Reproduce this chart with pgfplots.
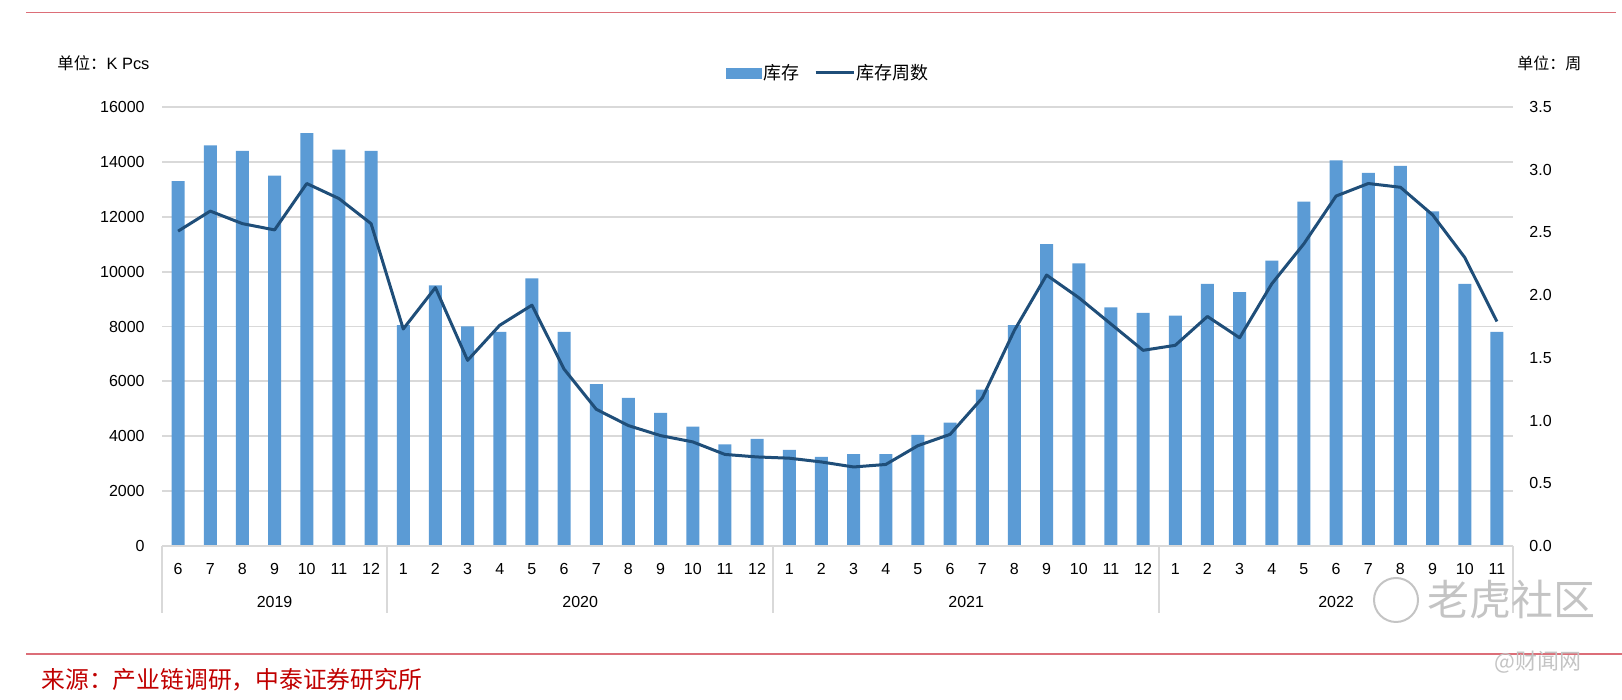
\documentclass[border=0pt]{standalone}
\usepackage{fontspec}
\setmainfont{Liberation Sans}
\newfontfamily\cjk{Noto Sans CJK SC}
\usepackage{pgfplots}
\usepackage{pgfplotstable}
\pgfplotsset{compat=1.18}
\definecolor{barblue}{HTML}{5B9BD5}
\definecolor{linenavy}{HTML}{1F4E79}
\definecolor{gridgray}{HTML}{D9D9D9}
\definecolor{redline}{HTML}{DC6E78}
\definecolor{srcred}{HTML}{C00000}
\definecolor{wmgray}{HTML}{C4C4C4}
\pgfplotstableread{
x inv wk
0 13300 2.51
1 14600 2.67
2 14400 2.57
3 13500 2.52
4 15050 2.89
5 14450 2.77
6 14400 2.57
7 8050 1.73
8 9500 2.06
9 8000 1.48
10 7800 1.76
11 9750 1.92
12 7800 1.41
13 5900 1.09
14 5400 0.96
15 4850 0.88
16 4350 0.83
17 3700 0.73
18 3900 0.71
19 3500 0.70
20 3250 0.67
21 3350 0.63
22 3350 0.65
23 4050 0.80
24 4500 0.89
25 5700 1.18
26 8050 1.72
27 11000 2.16
28 10300 1.98
29 8700 1.77
30 8500 1.56
31 8400 1.60
32 9550 1.83
33 9250 1.66
34 10400 2.09
35 12550 2.41
36 14050 2.79
37 13600 2.89
38 13850 2.86
39 12200 2.64
40 9550 2.30
41 7800 1.79
}\datatable
\begin{document}
\begin{tikzpicture}
\useasboundingbox (0,0) rectangle (811pt,350pt);
% red rules
\draw[redline, line width=0.7pt] (13pt,343.8pt) -- (808pt,343.8pt);
\draw[redline, line width=0.7pt] (13pt,23pt) -- (811pt,23pt);
\begin{axis}[
  at={(81pt,77pt)}, anchor=south west,
  scale only axis, width=675.5pt, height=219.5pt,
  xmin=-0.5, xmax=41.5, ymin=0, ymax=16000,
  ytick={0,2000,...,16000},
  xtick={0,...,41},
  xticklabels={6,7,8,9,10,11,12,1,2,3,4,5,6,7,8,9,10,11,12,1,2,3,4,5,6,7,8,9,10,11,12,1,2,3,4,5,6,7,8,9,10,11},
  axis line style={draw=none},
  tick style={draw=none},
  ymajorgrids, grid style={gridgray, line width=0.9pt},
  /pgf/number format/assume math mode=true,
  scaled y ticks=false,
  yticklabel style={font=\fontsize{8}{9}\selectfont, anchor=east, inner sep=0pt, xshift=-8.5pt, /pgf/number format/1000 sep={}},
  xticklabel style={font=\fontsize{8}{9}\selectfont, anchor=center, inner sep=0pt, yshift=-11.5pt},
  clip=false,
]
\addplot[ybar, bar width=6.5pt, fill=barblue, draw=none] table[x=x,y=inv] {\datatable};
\draw[gridgray, line width=0.9pt] (axis cs:-0.5,0) -- (axis cs:41.5,0);
\draw[gridgray, line width=0.8pt] (axis cs:-0.5,0) -- ([yshift=-33.5pt]axis cs:-0.5,0);
\draw[gridgray, line width=0.8pt] (axis cs:6.5,0) -- ([yshift=-33.5pt]axis cs:6.5,0);
\draw[gridgray, line width=0.8pt] (axis cs:18.5,0) -- ([yshift=-33.5pt]axis cs:18.5,0);
\draw[gridgray, line width=0.8pt] (axis cs:30.5,0) -- ([yshift=-33.5pt]axis cs:30.5,0);
\draw[gridgray, line width=0.8pt] (axis cs:41.5,0) -- ([yshift=-33.5pt]axis cs:41.5,0);
\node[font=\fontsize{8}{9}\selectfont] at ([yshift=-28pt]axis cs:3,0) {2019};
\node[font=\fontsize{8}{9}\selectfont] at ([yshift=-28pt]axis cs:12.5,0) {2020};
\node[font=\fontsize{8}{9}\selectfont] at ([yshift=-28pt]axis cs:24.5,0) {2021};
\node[font=\fontsize{8}{9}\selectfont] at ([yshift=-28pt]axis cs:36,0) {2022};
\end{axis}
\begin{axis}[
  at={(81pt,77pt)}, anchor=south west,
  scale only axis, width=675.5pt, height=219.5pt,
  xmin=-0.5, xmax=41.5, ymin=0, ymax=3.5,
  ytick={0,0.5,...,3.5},
  hide x axis,
  axis y line*=right,
  y axis line style={draw=none},
  tick style={draw=none},
  /pgf/number format/assume math mode=true,
  yticklabel style={font=\fontsize{8}{9}\selectfont, anchor=west, inner sep=0pt, xshift=8pt,
    /pgf/number format/.cd, fixed, fixed zerofill, precision=1},
  legend style={at={(0.4175,1.0775)}, anchor=west, draw=none, fill=none, inner sep=0pt,
    font=\cjk\fontsize{9}{10}\selectfont, legend columns=2,
    /tikz/every even column/.append style={column sep=7pt},
    nodes={inner sep=0.5pt}},
  clip=false,
]
\addlegendimage{legend image code/.code={\fill[barblue] (0pt,-2.5pt) rectangle (17.5pt,2.5pt);}}
\addlegendentry{库存}
\addplot[linenavy, line width=1.5pt, mark=none, line join=round,
  legend image code/.code={\draw[linenavy,line width=1.5pt] (0pt,0pt) -- (19pt,0pt);}] table[x=x,y=wk] {\datatable};
\addlegendentry{库存周数}
\end{axis}
% unit labels
\node[anchor=west, inner sep=0pt, font=\fontsize{8.2}{9}\selectfont] at (28.5pt,318.5pt) {{\cjk 单位：}K Pcs};
\node[anchor=west, inner sep=0pt, font=\cjk\fontsize{8}{9}\selectfont] at (758.5pt,318.5pt) {单位：周};
% source
\node[anchor=west, inner sep=0pt, text=srcred, font=\cjk\fontsize{11.9}{12}\selectfont] at (20.5pt,10pt) {来源：产业链调研，中泰证券研究所};
% watermark
\draw[wmgray, line width=1pt] (698pt,50pt) circle (11pt);
\node[anchor=west, inner sep=0pt, text=wmgray, font=\cjk\fontsize{21}{22}\selectfont] at (713.5pt,50pt) {老虎社区};
\node[anchor=west, inner sep=0pt, text=wmgray, font=\cjk\fontsize{11}{12}\selectfont] at (747pt,19pt) {@财闻网};
\end{tikzpicture}
\end{document}
